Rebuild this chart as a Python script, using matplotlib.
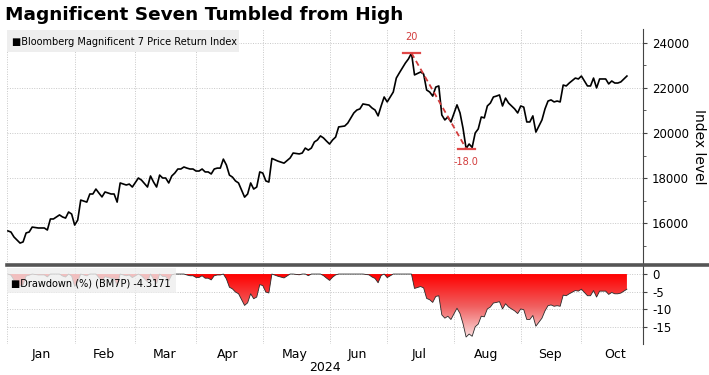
import matplotlib
matplotlib.use('Agg')
import matplotlib.pyplot as plt
import numpy as np
from matplotlib.colors import LinearSegmentedColormap
from matplotlib.patches import Rectangle
from matplotlib.lines import Line2D
from matplotlib.ticker import MultipleLocator, FixedLocator

plt.rcParams['font.family'] = ['DejaVu Sans']
plt.rcParams['axes.unicode_minus'] = False

# trading day counted from 2 Jan 2024 (=0), index level
day = [-1, 0, 1, 3, 4, 5, 6, 7, 9, 11, 12, 13, 14, 16, 17, 18, 19, 20, 21, 22,
       23, 25, 26, 27, 28, 29, 30, 31, 33, 34, 35, 36, 38, 39, 40, 42, 43, 45, 46, 47,
       48, 49, 50, 51, 52, 53, 54, 55, 56, 57, 58, 59, 60, 61, 62, 63, 64, 65, 66, 67,
       68, 69, 70, 71, 72, 73, 74, 75, 77, 78, 79, 80, 81, 82, 83, 84, 85, 86, 88, 90,
       92, 93, 95, 96, 97, 98, 99, 100, 101, 102, 103, 104, 105, 106, 107, 108, 110, 111, 113, 114,
       115, 116, 118, 119, 120, 121, 122, 123, 124, 126, 127, 128, 129, 130, 131, 132, 133, 135, 136, 137,
       138, 139, 140, 141, 142, 143, 144, 145, 147, 148, 149, 150, 151, 152, 153, 154, 155, 156, 157, 158,
       159, 160, 161, 162, 163, 164, 165, 166, 167, 168, 169, 170, 171, 172, 173, 174, 175, 176, 177, 178,
       179, 180, 181, 182, 183, 184, 186, 187, 188, 189, 190, 191, 192, 193, 194, 195, 196, 197, 198, 199,
       200, 201, 203]
level = [15650, 15600, 15380, 15110, 15160, 15560, 15600, 15820, 15780, 15780, 15690, 16180, 16180, 16360, 16270, 16220, 16490, 16400, 15910, 16130,
         17020, 16930, 17290, 17290, 17510, 17330, 17160, 17380, 17290, 17290, 16930, 17780, 17690, 17730, 17600, 18000, 17910, 17600, 18090, 17820,
         17600, 18130, 18000, 18000, 17780, 18090, 18220, 18400, 18400, 18490, 18440, 18400, 18400, 18310, 18310, 18400, 18270, 18270, 18180, 18400,
         18440, 18440, 18840, 18580, 18130, 18040, 17870, 17780, 17150, 17290, 17780, 17510, 17600, 18270, 18220, 17870, 17820, 18870, 18750, 18660,
         18890, 19110, 19070, 19110, 19330, 19240, 19330, 19600, 19690, 19870, 19780, 19640, 19510, 19690, 19820, 20270, 20310, 20440, 20890, 21020,
         21070, 21290, 21240, 21110, 21020, 20760, 21200, 21600, 21380, 21820, 22440, 22670, 22890, 23110, 23290, 23550, 22580, 22710, 22620, 21910,
         21820, 21640, 22040, 22090, 20800, 20580, 20710, 20490, 21250, 20890, 20200, 19310, 19510, 19360, 20000, 20180, 20710, 20670, 21200, 21330,
         21600, 21640, 21690, 21200, 21550, 21330, 21200, 21070, 20890, 21200, 21150, 20490, 20490, 20760, 20040, 20310, 20580, 21070, 21420, 21470,
         21380, 21420, 21380, 22130, 22090, 22220, 22440, 22400, 22530, 22310, 22090, 22090, 22440, 22000, 22400, 22400, 22400, 22180, 22310, 22220,
         22220, 22270, 22530]

months = ['Jan', 'Feb', 'Mar', 'Apr', 'May', 'Jun', 'Jul', 'Aug', 'Sep', 'Oct']
month_start = [0, 21, 41, 61, 83, 105, 124, 146, 168, 188]   # first trading day
month_len = [21, 20, 20, 22, 22, 19, 22, 22, 20, 23]

title = 'Magnificent Seven Tumbled from High'
legend_top = 'Bloomberg Magnificent 7 Price Return Index'
legend_bot = 'Drawdown (%) (BM7P) -4.3171'
peak_label = '20'
trough_label = '-18.0'

day = np.array(day)
level = np.array(level, dtype=float)
# drawdown from running high, in %
dd = (level / np.maximum.accumulate(level) - 1) * 100

W, H = 709, 375
fig = plt.figure(figsize=(W / 100, H / 100), dpi=100)
L, R = 7 / W, 643 / W
ax1 = fig.add_axes([L, 1 - 264 / H, R - L, (264 - 29) / H])
ax2 = fig.add_axes([L, 1 - 344 / H, R - L, (344 - 266) / H])

xmin, xmax = -1.3, 208.3
red = '#d23c3c'
gridkw = dict(color='#c8c8c8', linestyle=(0, (1, 1.5)), linewidth=0.7)

# ---- top panel
ax1.plot(day, level, color='black', lw=1.2, zorder=3)
ax1.set_xlim(xmin, xmax)
ax1.set_ylim(14180, 24620)
ip = int(np.argmax(level))
it = int(np.argmin(level[ip:])) + ip
ax1.plot([day[ip] - 2.8, day[ip] + 2.8], [level[ip]] * 2, color='#e04848', lw=1.6, zorder=4)
ax1.plot([day[it] - 2.8, day[it] + 2.8], [level[it]] * 2, color='#e04848', lw=1.6, zorder=4)
ax1.plot([day[ip], day[it]], [level[ip], level[it]], color=red, lw=1.3, ls=(0, (3, 2)), zorder=4)
ax1.annotate(peak_label, (day[ip], level[ip]), xytext=(0, 8), textcoords='offset points',
             ha='center', va='bottom', color=red, fontsize=7)
ax1.annotate(trough_label, (day[it], level[it]), xytext=(0, -6), textcoords='offset points',
             ha='center', va='top', color=red, fontsize=7)

ax1.yaxis.tick_right()
ax1.yaxis.set_label_position('right')
ax1.yaxis.set_major_locator(MultipleLocator(2000))
ax1.yaxis.set_minor_locator(MultipleLocator(1000))
ax1.set_ylabel('Index level', rotation=-90, labelpad=12, fontsize=10)
ax1.grid(axis='y', which='major', **gridkw)

# ---- bottom panel
ax2.set_xlim(xmin, xmax)
ax2.set_ylim(-20, 2.3)
cmap = LinearSegmentedColormap.from_list('dd', ['#ff0000', '#f06060', '#fbe4e4'])
poly = ax2.fill_between(day, dd, 0, facecolor='none', edgecolor='none')
grad = np.linspace(0, 1, 256).reshape(-1, 1)
im = ax2.imshow(grad, cmap=cmap, aspect='auto', origin='upper',
                extent=[day[0], day[-1], -18.5, 0], zorder=2)
im.set_clip_path(poly.get_paths()[0], transform=ax2.transData)
ax2.plot(day, dd, color='#2a2a2a', lw=0.6, zorder=3)
ax2.set_xlim(xmin, xmax)
ax2.set_ylim(-20, 2.3)
ax2.yaxis.tick_right()
ax2.yaxis.set_major_locator(FixedLocator([0, -5, -10, -15]))
ax2.grid(axis='y', which='major', **gridkw)

for ax in (ax1, ax2):
    for s in ('left', 'top', 'bottom'):
        ax.spines[s].set_visible(False)
    ax.spines['right'].set_color('#444444')
    ax.spines['right'].set_linewidth(0.8)
    ax.tick_params(axis='y', which='both', direction='out', colors='#444444', labelcolor='black', labelsize=8.5)
    ax.tick_params(axis='y', which='major', length=3)
    ax.tick_params(axis='y', which='minor', length=2)
    ax.xaxis.set_minor_locator(FixedLocator([-1.2] + month_start[1:]))
    ax.grid(axis='x', which='minor', **gridkw)
    ax.tick_params(axis='x', which='both', length=0)
    ax.set_axisbelow(True)

centers = [s + n / 2 - 0.5 for s, n in zip(month_start, month_len)]
ax1.set_xticks(centers)
ax1.set_xticklabels([])
ax2.set_xticks(centers)
ax2.set_xticklabels(months, fontsize=9)
ax2.tick_params(axis='x', pad=3)
ax2.set_xlabel('2024', fontsize=9, labelpad=0)

# separator between panels
fig.add_artist(Line2D([L, 1], [1 - 265 / H] * 2, color='#555555', lw=2.6))

# legend boxes
fig.add_artist(Rectangle((7 / W, 1 - 52 / H), 232 / W, 22 / H, transform=fig.transFigure,
                         facecolor='#eeeeee', edgecolor='none', zorder=5))
fig.text(12 / W, 1 - 42 / H, '\u25a0' + legend_top, fontsize=7.0, va='center', zorder=6)
fig.add_artist(Rectangle((7 / W, 1 - 293 / H), 169 / W, 25 / H, transform=fig.transFigure,
                         facecolor='#eeeeee', edgecolor='none', alpha=0.8, zorder=5))
fig.text(11 / W, 1 - 283 / H, '\u25a0' + legend_bot, fontsize=7.0, va='center', zorder=6)

fig.text(5 / W, 1 - 15 / H, title, fontsize=13.3, fontweight='bold', va='center')

fig.savefig('out.png', dpi=100)
